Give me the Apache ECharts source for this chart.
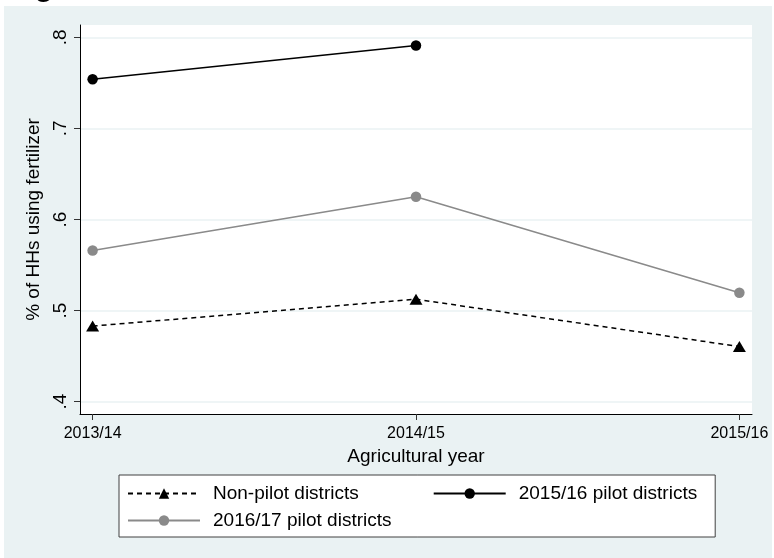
<!DOCTYPE html>
<html>
<head>
<meta charset="utf-8">
<script src="https://cdn.jsdelivr.net/npm/echarts@6/dist/echarts.min.js"></script>
<style>
html,body{margin:0;padding:0;background:#fff;}
#bg{position:absolute;left:4px;top:6px;width:768px;height:552px;background:#eaf2f3;}
#chart{position:absolute;left:0;top:0;width:774px;height:558px;}
</style>
</head>
<body>
<div id="bg"></div>
<div id="chart"></div>
<script>
const years = ['2013/14', '2014/15', '2015/16'];
const nonPilot = [0.483, 0.5125, 0.4605];
const pilot1516 = [0.754, 0.791];
const pilot1617 = [0.566, 0.625, 0.5195];
const yTicks = [0.4, 0.5, 0.6, 0.7, 0.8];
const xTicks = [0, 1, 2];
const seriesNames = ['Non-pilot districts', '2015/16 pilot districts', '2016/17 pilot districts'];

const FONT = "'Liberation Sans', Arial, Helvetica, sans-serif";
const toPairs = arr => arr.map((v, i) => [i, v]);

const chart = echarts.init(document.getElementById('chart'), null, {renderer: 'canvas'});
chart.setOption({
  animation: false,
  textStyle: {fontFamily: FONT},
  title: {
    text: 'Figure',
    left: 3, top: -32,
    textStyle: {fontSize: 30, fontWeight: 'bold', color: '#000', fontFamily: FONT}
  },
  grid: {
    left: 80, right: 22, top: 25, bottom: 144,
    show: true, backgroundColor: '#ffffff', borderWidth: 0
  },
  xAxis: {
    type: 'value', min: -0.039, max: 2.039,
    name: 'Agricultural year', nameLocation: 'middle', nameGap: 26,
    nameTextStyle: {fontSize: 19, color: '#000', fontFamily: FONT},
    axisLine: {show: true, onZero: false, lineStyle: {color: '#000', width: 1}},
    axisTick: {show: true, length: 6, customValues: xTicks, lineStyle: {color: '#333'}},
    axisLabel: {customValues: xTicks, margin: 12, fontSize: 16, color: '#000', fontFamily: FONT,
      formatter: v => years[Math.round(v)]},
    splitLine: {show: false}
  },
  yAxis: {
    type: 'value', min: 0.3865, max: 0.8135,
    name: '% of HHs using fertilizer', nameLocation: 'middle', nameGap: 29,
    nameTextStyle: {fontSize: 19, color: '#000', fontFamily: FONT},
    axisLine: {show: true, onZero: false, lineStyle: {color: '#000', width: 1}},
    axisTick: {show: true, length: 6, customValues: yTicks, lineStyle: {color: '#333'}},
    axisLabel: {customValues: yTicks, rotate: 90, margin: 10, fontSize: 19, color: '#000', fontFamily: FONT,
      formatter: v => v.toFixed(1).replace(/^0/, '')},
    splitLine: {show: true, customValues: yTicks, lineStyle: {color: '#eaf2f3', width: 1.5}}
  },
  legend: [
    {
      data: [seriesNames[0], seriesNames[1]],
      left: 119, top: 475, orient: 'horizontal',
      itemWidth: 72, itemHeight: 13, itemGap: 74,
      padding: [9, 18, 34, 8],
      backgroundColor: '#ffffff', borderColor: '#404040', borderWidth: 1, borderRadius: 0,
      selectedMode: false,
      textStyle: {fontSize: 19, color: '#000', fontFamily: FONT, padding: [0, 0, 0, 8]}
    },
    {
      data: [seriesNames[2]],
      left: 127, top: 511, orient: 'horizontal', z: 6,
      itemWidth: 72, itemHeight: 13, padding: 0,
      selectedMode: false,
      textStyle: {fontSize: 19, color: '#000', fontFamily: FONT, padding: [0, 0, 0, 8]}
    }
  ],
  series: [
    {
      name: seriesNames[0], type: 'line', data: toPairs(nonPilot),
      symbol: 'triangle', symbolSize: [13, 11],
      lineStyle: {color: '#000', width: 1.5, type: [5, 4]},
      itemStyle: {color: '#000'},
      emphasis: {disabled: true}
    },
    {
      name: seriesNames[1], type: 'line', data: toPairs(pilot1516),
      symbol: 'circle', symbolSize: 10.5,
      lineStyle: {color: '#000', width: 1.6},
      itemStyle: {color: '#000'},
      emphasis: {disabled: true}
    },
    {
      name: seriesNames[2], type: 'line', data: toPairs(pilot1617),
      symbol: 'circle', symbolSize: 10.5,
      lineStyle: {color: '#8a8a8a', width: 1.5},
      itemStyle: {color: '#8a8a8a'},
      emphasis: {disabled: true}
    }
  ]
});
</script>
</body>
</html>
